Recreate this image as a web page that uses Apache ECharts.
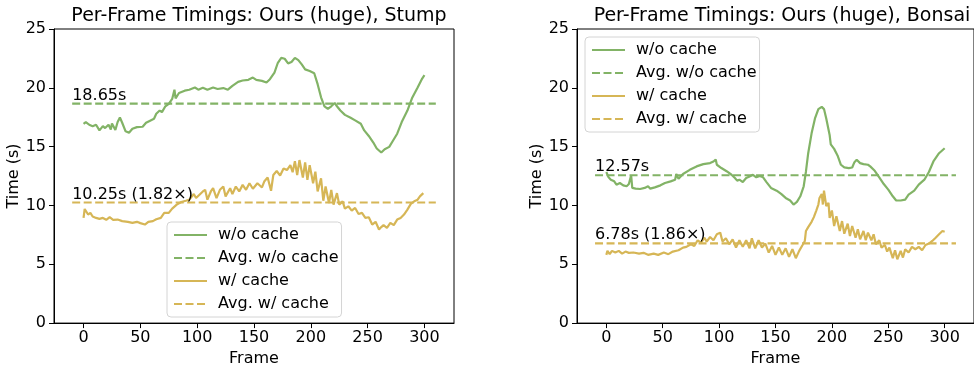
<!DOCTYPE html>
<html>
<head>
<meta charset="utf-8">
<script src="https://cdn.jsdelivr.net/npm/echarts@6/dist/echarts.min.js"></script>
<style>
  html, body { margin: 0; padding: 0; background: #fff; }
  #chart { width: 974px; height: 372px; }
</style>
</head>
<body>
<div id="chart"></div>
<script>
// [frame, seconds]
const stumpNoCache = [[0,16.94],[2,17.09],[5,16.86],[8,16.74],[11,16.86],[14,16.38],[17,16.74],[19,16.58],[22,16.86],[24,16.46],
  [25,16.97],[28,16.41],[30,17.09],[32,17.48],[34,17.03],[37,16.3],[40,16.18],[43,16.52],[47,16.66],[52,16.69],
  [55,17.03],[59,17.23],[62,17.37],[64,17.79],[67,18.07],[69,17.93],[72,18.43],[75,18.63],[78,19.05],[80,19.84],
  [81,19.11],[84,19.56],[89,19.76],[93,19.84],[98,20.03],[101,19.84],[105,20.01],[109,19.84],[114,20.03],[118,19.9],
  [123,19.98],[127,19.84],[131,20.17],[136,20.51],[140,20.62],[145,20.68],[149,20.87],[152,20.68],[157,20.59],[161,20.45],
  [164,20.73],[168,21.29],[171,22.13],[174,22.55],[177,22.47],[180,22.08],[183,22.19],[186,22.55],[189,22.36],[192,21.99],
  [195,21.57],[199,21.43],[203,21.24],[206,20.31],[209,19.19],[212,18.43],[215,18.21],[218,18.43],[221,18.71],[223,18.43],
  [226,18.07],[230,17.7],[235,17.45],[239,17.23],[244,16.94],[247,16.38],[251,15.91],[255,15.35],[258,14.84],[262,14.5],
  [265,14.78],[269,14.98],[272,15.46],[276,16.1],[280,17.09],[285,18.07],[289,19.11],[294,20.03],[298,20.79],[300,21.07]];

const stumpCache = [[0,8.94],[1,9.7],[2,9.56],[4,9.23],[6,9.37],[8,9.06],[11,8.94],[14,8.86],[17,8.94],[20,8.78],
  [23,9.0],[26,8.78],[30,8.8],[34,8.67],[39,8.61],[43,8.52],[47,8.61],[50,8.5],[54,8.38],[57,8.61],
  [61,8.67],[64,8.83],[68,8.94],[71,9.37],[75,9.37],[78,9.73],[82,10.07],[86,10.29],[90,10.4],[93,10.49],
  [97,10.97],[99,10.63],[102,10.91],[105,11.19],[107,11.33],[109,10.49],[112,11.19],[114,11.47],[117,10.63],[120,11.33],
  [123,11.61],[125,10.77],[129,11.47],[131,10.97],[134,11.61],[137,11.19],[140,11.75],[143,11.33],[146,11.89],[149,11.42],
  [153,11.89],[157,11.53],[159,12.03],[162,12.37],[165,11.25],[167,12.59],[170,12.93],[173,12.54],[176,13.15],[179,13.01],
  [182,13.43],[184,12.82],[186,13.77],[188,12.59],[190,13.86],[193,12.37],[195,13.66],[197,12.17],[199,13.43],[202,11.89],
  [204,12.87],[206,11.19],[209,12.31],[211,10.4],[213,11.61],[216,10.21],[218,11.33],[220,10.07],[223,11.05],[225,10.07],
  [228,10.35],[230,9.73],[233,9.93],[236,9.56],[239,9.79],[242,9.28],[245,9.37],[248,8.94],[251,9.0],[254,8.38],
  [257,8.61],[260,7.96],[262,8.16],[264,8.33],[267,8.1],[270,8.52],[273,8.33],[276,8.8],[279,8.94],[282,9.23],
  [285,9.65],[288,10.13],[291,10.35],[294,10.49],[296,10.77],[299,11.05]];

const bonsaiNoCache = [[0,12.84],[2,12.39],[4,12.19],[7,12.05],[9,11.77],[12,11.91],[15,11.71],[18,11.63],[20,11.82],[22,12.56],
  [23,11.49],[26,11.43],[30,11.4],[34,11.49],[37,11.63],[39,11.43],[43,11.54],[48,11.71],[52,11.91],[57,12.05],
  [61,12.19],[62,12.67],[64,12.27],[68,12.67],[74,13.03],[80,13.32],[86,13.51],[92,13.6],[95,13.74],[97,13.91],
  [98,13.46],[102,13.18],[107,12.89],[111,12.61],[114,12.33],[116,12.11],[118,12.19],[121,11.99],[124,12.33],[127,12.47],
  [130,12.61],[133,12.39],[136,12.5],[139,12.39],[142,11.99],[146,11.49],[151,11.26],[155,10.98],[159,10.64],[163,10.42],
  [166,10.08],[169,10.3],[172,10.78],[175,11.63],[177,12.89],[179,14.44],[182,16.13],[185,17.4],[188,18.19],[191,18.38],
  [193,18.19],[195,17.4],[198,15.99],[199,15.2],[202,14.81],[205,14.25],[208,13.46],[211,13.23],[215,13.18],[218,13.23],
  [220,13.68],[222,13.88],[225,13.6],[228,13.51],[232,13.46],[234,13.32],[238,12.95],[242,12.39],[246,11.82],[250,11.35],
  [254,10.78],[257,10.42],[261,10.42],[265,10.5],[268,10.92],[273,11.26],[277,11.77],[282,12.19],[286,12.84],[290,13.74],
  [295,14.44],[300,14.86]];

const bonsaiCache = [[0,5.8],[1,6.14],[3,5.86],[5,6.14],[8,6.0],[11,6.14],[14,5.91],[17,6.08],[20,5.97],[24,6.0],
  [29,5.91],[33,5.97],[37,5.8],[42,5.91],[46,5.8],[51,6.0],[55,5.86],[59,6.08],[64,6.19],[68,6.42],
  [71,6.48],[75,6.7],[78,6.56],[81,7.04],[84,6.84],[87,7.26],[89,6.93],[92,7.32],[95,7.04],[98,7.55],
  [101,7.69],[103,6.93],[106,7.21],[109,6.7],[112,7.12],[115,6.42],[118,7.04],[121,6.48],[124,7.04],[127,6.36],
  [129,7.21],[132,6.36],[135,7.04],[138,6.42],[141,6.76],[144,6.0],[147,6.56],[150,5.8],[153,6.42],[156,5.8],
  [159,6.36],[162,5.63],[165,6.28],[168,5.52],[171,6.14],[174,6.64],[176,6.98],[177,7.83],[179,8.16],[182,8.61],
  [184,9.01],[186,9.52],[188,10.08],[189,10.64],[191,10.98],[192,10.08],[193,11.26],[195,9.94],[197,10.22],[198,8.95],
  [200,9.57],[202,8.25],[204,9.09],[207,7.83],[209,8.67],[211,7.6],[214,8.45],[216,7.4],[218,8.25],[221,7.26],
  [223,7.97],[225,7.12],[228,7.83],[230,7.04],[232,7.69],[235,7.04],[237,7.55],[239,6.7],[242,7.04],[244,6.42],
  [247,6.64],[249,6.08],[251,6.42],[254,5.52],[256,6.19],[258,5.43],[261,6.14],[263,5.57],[265,6.28],[268,6.0],
  [271,6.48],[274,6.28],[277,6.48],[280,6.19],[283,6.64],[286,6.76],[289,6.98],[292,7.26],[295,7.55],[298,7.83],
  [300,7.77]];

const averages = { stump: [18.65, 10.25], bonsai: [12.57, 6.78] };
const avgLabels = { stump: ['18.65s', '10.25s (1.82×)'], bonsai: ['12.57s', '6.78s (1.86×)'] };
const avgSpan = [-10, 310];
const xTicks = [0, 50, 100, 150, 200, 250, 300];
const titles = ['Per-Frame Timings: Ours (huge), Stump', 'Per-Frame Timings: Ours (huge), Bonsai'];
const legendNames = ['w/o cache', 'Avg. w/o cache', 'w/ cache', 'Avg. w/ cache'];

const GREEN = '#82b366';
const YELLOW = '#d6b656';
const FONT = 'DejaVu Sans';
const FS = 16;

const grids = [
  { left: 54, top: 29, width: 400, height: 297 },
  { left: 577, top: 29, width: 400, height: 297 }
];

function xAxis(i) {
  return {
    type: 'value', gridIndex: i, min: -26, max: 326,
    splitLine: { show: false },
    axisLine: { show: true, onZero: false, lineStyle: { color: '#000', width: 1 } },
    axisTick: { show: true, customValues: xTicks, length: 5, lineStyle: { color: '#000' } },
    axisLabel: { customValues: xTicks, color: '#000', fontSize: FS, fontFamily: FONT, margin: 7 },
    name: 'Frame', nameLocation: 'middle', nameGap: 27,
    nameTextStyle: { color: '#000', fontSize: FS, fontFamily: FONT }
  };
}
function yAxis(i) {
  return {
    type: 'value', gridIndex: i, min: 0, max: 25, interval: 5,
    splitLine: { show: false },
    axisLine: { show: true, onZero: false, lineStyle: { color: '#000', width: 1 } },
    axisTick: { show: true, length: 5, lineStyle: { color: '#000' } },
    axisLabel: { color: '#000', fontSize: FS, fontFamily: FONT, margin: 8 },
    name: 'Time (s)', nameLocation: 'middle', nameGap: 31, nameRotate: 90,
    nameTextStyle: { color: '#000', fontSize: FS, fontFamily: FONT }
  };
}

function lineSeries(name, i, data, color, dashed) {
  return {
    name, type: 'line', xAxisIndex: i, yAxisIndex: i, data,
    symbol: 'none', showSymbol: false, animation: false, z: 3,
    lineStyle: { color, width: 2.2, type: dashed ? [8, 3.5] : 'solid' },
    itemStyle: { color }
  };
}
function avgLabel(i, value, text) {
  return {
    type: 'scatter', xAxisIndex: i, yAxisIndex: i, silent: true, animation: false, z: 5,
    data: [[avgSpan[0], value]], symbolSize: 0, itemStyle: { color: '#000' },
    label: {
      show: true, formatter: text, position: [0, 0], align: 'left', verticalAlign: 'bottom',
      color: '#000', opacity: 1, textBorderWidth: 0, fontSize: FS, fontFamily: FONT
    }
  };
}
function avgLine(value) {
  return avgSpan.map(x => [x, value]);
}

function legend(left, top) {
  return {
    data: legendNames, orient: 'vertical', left, top,
    itemWidth: 33, itemHeight: 14, itemGap: 7,
    padding: [5, 3, 5, 6],
    itemStyle: { opacity: 0 },
    backgroundColor: 'rgba(255,255,255,0.8)', borderColor: '#d4d4d4', borderWidth: 1, borderRadius: 4,
    textStyle: { color: '#000', fontSize: FS, fontFamily: FONT, padding: [0, 0, 0, 6] },
    selectedMode: false
  };
}

const chart = echarts.init(document.getElementById('chart'), null, { renderer: 'canvas' });
chart.setOption({
  animation: false,
  textStyle: { fontFamily: FONT },
  title: [
    { text: titles[0], left: 254, top: 2, textAlign: 'center',
      textStyle: { fontSize: 19, fontWeight: 'normal', color: '#000', fontFamily: FONT } },
    { text: titles[1], left: 777, top: 2, textAlign: 'center',
      textStyle: { fontSize: 19, fontWeight: 'normal', color: '#000', fontFamily: FONT } }
  ],
  grid: grids.map(g => Object.assign({ show: true, borderColor: '#000', borderWidth: 1, backgroundColor: 'transparent' }, g)),
  xAxis: [xAxis(0), xAxis(1)],
  yAxis: [yAxis(0), yAxis(1)],
  legend: [legend(167, 222), legend(585, 37)],
  series: [
    lineSeries('w/o cache', 0, stumpNoCache, GREEN, false),
    lineSeries('Avg. w/o cache', 0, avgLine(averages.stump[0]), GREEN, true),
    lineSeries('w/ cache', 0, stumpCache, YELLOW, false),
    lineSeries('Avg. w/ cache', 0, avgLine(averages.stump[1]), YELLOW, true),
    avgLabel(0, averages.stump[0], avgLabels.stump[0]),
    avgLabel(0, averages.stump[1], avgLabels.stump[1]),
    lineSeries('w/o cache', 1, bonsaiNoCache, GREEN, false),
    lineSeries('Avg. w/o cache', 1, avgLine(averages.bonsai[0]), GREEN, true),
    lineSeries('w/ cache', 1, bonsaiCache, YELLOW, false),
    lineSeries('Avg. w/ cache', 1, avgLine(averages.bonsai[1]), YELLOW, true),
    avgLabel(1, averages.bonsai[0], avgLabels.bonsai[0]),
    avgLabel(1, averages.bonsai[1], avgLabels.bonsai[1])
  ]
});
</script>
</body>
</html>
